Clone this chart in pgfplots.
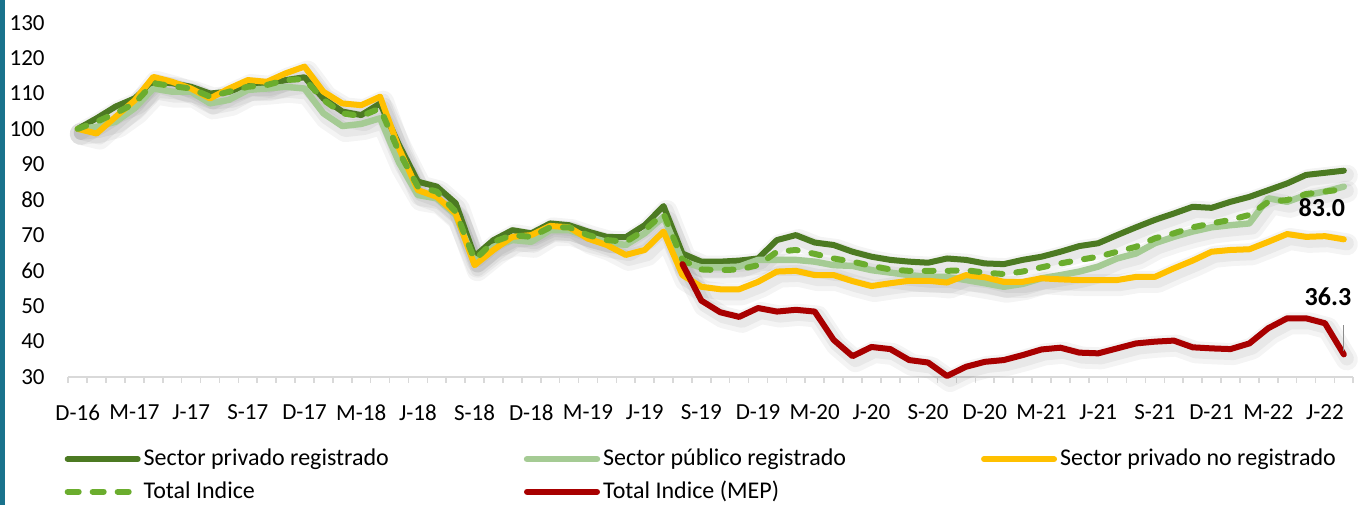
\documentclass[border=0pt]{standalone}
\usepackage{fontspec}
\setmainfont{Carlito}
\usepackage{pgfplots}
\usepackage{pgfplotstable}
\pgfplotsset{compat=1.18}
\definecolor{dg}{HTML}{4C7A22}
\definecolor{lg}{HTML}{A5CB94}
\definecolor{yl}{HTML}{FFC000}
\definecolor{tg}{HTML}{6BAD2E}
\definecolor{rd}{HTML}{A80000}
\definecolor{teal}{HTML}{19728C}
\pgfplotstableread{
i dg lg y t
0 100 100 100 100
1 103 100.6 98.7 102
2 106.3 102 103.4 104.4
3 108.6 105.8 108 107.2
4 113.3 111.4 114.7 112.9
5 112.9 110.5 113.3 112.1
6 111.9 110.5 111.4 111.4
7 110 107.2 108.6 109.1
8 110.5 108.2 111.4 110.5
9 112.4 111 113.8 111.9
10 112.4 111.4 113.3 112.4
11 113.8 111.9 115.7 113.8
12 114.6 111.4 117.6 114.1
13 108.6 104.4 110.5 108.2
14 104.9 100.8 107.2 104.4
15 103.9 101.4 106.7 103.6
16 107.2 103 109.1 105.8
17 95.5 90.5 94.5 93.5
18 85.1 81.3 82.7 83.7
19 83.7 80.4 80.8 82.3
20 79 75.7 76.1 76.6
21 64 62.5 61.5 63
22 68.6 66.7 65.8 68.1
23 71.4 68.6 69.5 70
24 70.5 68.1 70 69.5
25 73.3 71.4 72.6 72.2
26 72.8 71.4 72.2 72.2
27 71 69.5 69 70
28 69.5 68.1 67.2 68.6
29 69.4 67.2 64.4 68.1
30 72.8 70.5 65.8 71.4
31 78.2 75.2 71 76.1
32 64.8 62.5 58.7 63
33 62.5 60.9 55.4 60.3
34 62.5 60.9 54.7 60.1
35 62.8 61.1 54.7 60.3
36 63.4 63 56.8 61.5
37 68.6 63 59.7 65.3
38 70 63 59.9 65.8
39 67.9 62.5 58.7 64.7
40 67.2 61.5 58.7 63.4
41 65.3 61.3 57 62.5
42 63.9 60.1 55.6 61.3
43 63 59.4 56.4 60.3
44 62.5 58.7 57.1 59.9
45 62.2 58.2 57.1 59.9
46 63.4 58.2 56.6 59.9
47 63 57.3 58.7 60.1
48 62 56.4 58.1 59.4
49 61.8 55.4 56.8 59
50 63 56.2 56.8 59.7
51 63.9 57.8 57.8 60.9
52 65.3 58.7 57.5 62
53 66.9 59.7 57.3 63
54 67.7 61.1 57.3 63.9
55 70 63.4 57.3 65.3
56 72.2 64.8 58.2 66.7
57 74.3 67.7 58.2 69.1
58 76.1 69.5 60.6 70.5
59 78 71 62.8 72.2
60 77.7 72.2 65.3 73.3
61 79.4 72.8 65.8 74.3
62 80.8 73.3 66 75.7
63 82.7 80.4 68.1 79.4
64 84.6 79.4 70.3 79.9
65 87 81.3 69.5 81.6
66 87.6 82.3 69.7 82.3
67 88.2 83.7 68.8 83.0
}\maindata
\pgfplotstableread{
i r
32 61.8
33 51.5
34 48.2
35 46.9
36 49.4
37 48.4
38 48.9
39 48.4
40 40.4
41 35.8
42 38.4
43 37.8
44 34.7
45 34
46 30.2
47 32.8
48 34.2
49 34.7
50 36.1
51 37.7
52 38.2
53 36.8
54 36.6
55 38
56 39.4
57 39.9
58 40.2
59 38.3
60 38
61 37.8
62 39.4
63 43.7
64 46.5
65 46.5
66 45.1
67 36.3
}\mepdata
\begin{document}
\fontsize{11.5pt}{14pt}\selectfont
\begin{tikzpicture}
\useasboundingbox (-34.15pt,-64.15pt) rectangle (650.85pt,188.35pt);
\fill[teal] (-34.15pt,-64.15pt) rectangle (-31.6pt,188.35pt);
\begin{axis}[
  at={(0,0)}, anchor=south west,
  scale only axis, width=642.5pt, height=177pt,
  xmin=-0.5, xmax=67.5, ymin=30, ymax=130,
  clip=false,
  axis y line*=left, axis x line*=bottom,
  y axis line style={draw=none},
  x axis line style={draw=black!15, line width=0.8pt},
  ytick={30,40,...,130},
  xtick={0,3,...,66},
  xticklabels={D-16,M-17,J-17,S-17,D-17,M-18,J-18,S-18,D-18,M-19,J-19,S-19,D-19,M-20,J-20,S-20,D-20,M-21,J-21,S-21,D-21,M-22,J-22},
  minor xtick={-0.5,0.5,...,67.5},
  major tick length=0pt,
  minor tick length=3pt,
  tick align=outside,
  tick style={draw=black!15, line width=0.8pt},
  /pgf/number format/assume math mode=true,
  tick label style={font=\fontsize{11.5pt}{14pt}\selectfont},
  yticklabel style={anchor=east, xshift=-7.8pt},
  xticklabel style={anchor=north, yshift=-10pt},
  legend columns=3,
  legend cell align=left,
  legend image code/.code={\draw[#1] (0pt,0pt) -- (35pt,0pt);},
  legend style={draw=none, fill=none, at={(0,0)}, anchor=north west,
    xshift=-5pt, yshift=-32.5pt,
    font=\fontsize{12pt}{14pt}\selectfont,
    nodes={inner sep=1.5pt},
    /tikz/row sep=3pt,
    /tikz/every even column/.append style={column sep=66pt}},
]
% shadows
\foreach \c in {dg,lg,y}{
\addplot[forget plot, draw=black, opacity=0.045, line width=11pt, line join=round, line cap=round, xshift=1.5pt, yshift=-2.5pt] table[x=i,y=\c]{\maindata};
\addplot[forget plot, draw=black, opacity=0.05, line width=7pt, line join=round, line cap=round, xshift=1.5pt, yshift=-2pt] table[x=i,y=\c]{\maindata};
}
\addplot[forget plot, draw=black, opacity=0.045, line width=11pt, line join=round, line cap=round, xshift=1.5pt, yshift=-2.5pt] table[x=i,y=r]{\mepdata};
\addplot[forget plot, draw=black, opacity=0.05, line width=7pt, line join=round, line cap=round, xshift=1.5pt, yshift=-2pt] table[x=i,y=r]{\mepdata};
% series
\addplot[dg, line width=3pt, line join=round, line cap=round] table[x=i,y=dg]{\maindata};
\addlegendentry{Sector privado registrado}
\addplot[lg, line width=3.2pt, line join=round, line cap=round] table[x=i,y=lg]{\maindata};
\addlegendentry{Sector público registrado}
\addplot[yl, line width=3pt, line join=round, line cap=round] table[x=i,y=y]{\maindata};
\addlegendentry{Sector privado no registrado}
\addlegendimage{tg, line width=3pt, line cap=round, dash pattern=on 5.5pt off 7pt}
\addlegendentry{Total Indice}
\addplot[forget plot, tg, line width=3pt, line join=round, line cap=round, dash pattern=on 4.5pt off 7pt] table[x=i,y=t]{\maindata};
\addplot[rd, line width=3pt, line join=round, line cap=round] table[x=i,y=r]{\mepdata};
\addlegendentry{Total Indice (MEP)}
\draw[black!45, line width=0.6pt] (axis cs:67,44.5) -- (axis cs:67,37.2);
\node[font=\fontsize{13pt}{15pt}\selectfont\bfseries] at (axis cs:65.84,77.65) {83.0};
\node[font=\fontsize{13pt}{15pt}\selectfont\bfseries] at (axis cs:66.16,52.5) {36.3};
\end{axis}
\end{tikzpicture}
\end{document}
